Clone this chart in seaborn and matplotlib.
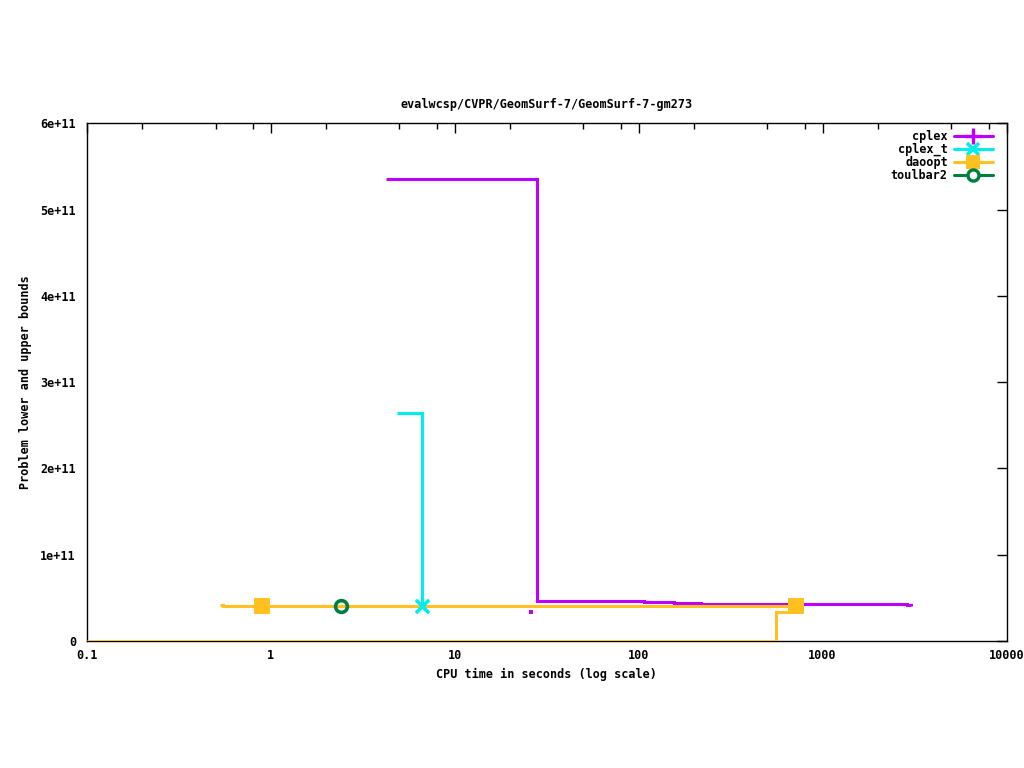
import matplotlib
matplotlib.use("Agg")
import matplotlib.pyplot as plt
import matplotlib.ticker as mticker
from matplotlib.lines import Line2D
import seaborn as sns
import pandas as pd

# ---- data ----
cplex_ub_t = [4.2, 28.0, 107, 156, 219, 2870, 3015]
cplex_ub_v = [5.35e11, 4.64e10, 4.49e10, 4.37e10, 4.26e10, 4.14e10, 4.03e10]
cplex_lb_t = [25.9]
cplex_lb_v = [3.33e10]

cplex_t_ub_t = [4.83, 6.61]
cplex_t_ub_v = [2.643e11, 4.06e10]

daoopt_ub_t = [0.53, 0.55, 713]
daoopt_ub_v = [4.2e10, 4.06e10, 4.06e10]
daoopt_lb_t = [0.1, 555, 721]
daoopt_lb_v = [0.0, 3.33e10, 3.33e10]
daoopt_mark_t = [0.9, 713]
daoopt_mark_v = [4.06e10, 4.06e10]

toulbar2_t = [2.42]
toulbar2_v = [4.06e10]

cplex_t_mark_t = [6.61]
cplex_t_mark_v = [4.06e10]

series_names = ["cplex", "cplex_t", "daoopt", "toulbar2"]
colors = {"cplex": "#c000ff", "cplex_t": "#00eeee", "daoopt": "#ffc020", "toulbar2": "#008040"}

y_ticks = [0, 1e11, 2e11, 3e11, 4e11, 5e11, 6e11]
y_labels = ["0", "1e+11", "2e+11", "3e+11", "4e+11", "5e+11", "6e+11"]
x_ticks = [0.1, 1, 10, 100, 1000, 10000]
x_labels = ["0.1", "1", "10", "100", "1000", "10000"]

title = "evalwcsp/CVPR/GeomSurf-7/GeomSurf-7-gm273"

# ---- style ----
sns.set_style("white")
plt.rcParams["font.family"] = ["DejaVu Sans Mono", "DejaVu Sans"]
plt.rcParams["font.size"] = 8
plt.rcParams["text.color"] = "black"
plt.rcParams["axes.labelcolor"] = "black"
plt.rcParams["xtick.color"] = "black"
plt.rcParams["ytick.color"] = "black"

fig = plt.figure(figsize=(10.24, 7.68), dpi=100)
ax = fig.add_axes([87/1024, 1 - 641/768, (1006.5 - 87)/1024, (641 - 123.3)/768])

lw = 2.2

def steps(t, v, color, z=2):
    df = pd.DataFrame({"t": t, "v": v})
    sns.lineplot(data=df, x="t", y="v", ax=ax, color=color, lw=lw,
                 drawstyle="steps-post", estimator=None, sort=False, zorder=z,
                 solid_joinstyle="miter", solid_capstyle="butt")

# daoopt
steps(daoopt_lb_t, daoopt_lb_v, colors["daoopt"], z=3)
steps(daoopt_ub_t, daoopt_ub_v, colors["daoopt"], z=3)
# cplex
steps(cplex_ub_t, cplex_ub_v, colors["cplex"], z=2)
sns.scatterplot(x=cplex_lb_t, y=cplex_lb_v, ax=ax, color=colors["cplex"], marker="s",
                s=6, linewidth=0, zorder=4)
# cplex_t
steps(cplex_t_ub_t, cplex_t_ub_v, colors["cplex_t"], z=4)
sns.scatterplot(x=cplex_t_mark_t, y=cplex_t_mark_v, ax=ax, color=colors["cplex_t"], marker="x",
                s=90, linewidth=2.6, zorder=5)
# daoopt markers
sns.scatterplot(x=daoopt_mark_t, y=daoopt_mark_v, ax=ax, color=colors["daoopt"], marker="s",
                s=130, linewidth=0, zorder=5)
# toulbar2
ax.plot(toulbar2_t, toulbar2_v, marker="o", ls="none", ms=8.5, mfc="none",
        mec=colors["toulbar2"], mew=2.6, zorder=6)

ax.set_xscale("log")
ax.set_xlim(0.1, 10000)
ax.set_ylim(0, 6e11)
ax.set_xticks(x_ticks)
ax.set_xticklabels(x_labels, fontweight="bold")
ax.xaxis.set_minor_locator(mticker.LogLocator(base=10, subs=[2, 5, 8], numticks=20))
ax.xaxis.set_minor_formatter(mticker.NullFormatter())
ax.set_yticks(y_ticks)
ax.set_yticklabels(y_labels, fontweight="bold")

ax.tick_params(axis="x", which="major", pad=6)
ax.tick_params(axis="y", which="major", pad=8)
ax.tick_params(axis="both", which="major", direction="in", length=7, width=1,
               top=True, right=True, labelsize=8.5, colors="black")
ax.tick_params(axis="both", which="minor", direction="in", length=4, width=1,
               top=True, right=True)
for s in ax.spines.values():
    s.set_color("black")
    s.set_linewidth(1)

ax.set_xlabel("CPU time in seconds (log scale)", fontsize=8.5, fontweight="bold", labelpad=4)
ax.set_ylabel("Problem lower and upper bounds", fontsize=8.5, fontweight="bold", labelpad=6)
ax.set_title(title, fontsize=8.5, fontweight="bold", pad=11)

handles = [
    Line2D([], [], color=colors["cplex"], lw=lw, marker="+", ms=12, mew=2.4),
    Line2D([], [], color=colors["cplex_t"], lw=lw, marker="x", ms=9, mew=2.6),
    Line2D([], [], color=colors["daoopt"], lw=lw, marker="s", ms=10, mew=0),
    Line2D([], [], color=colors["toulbar2"], lw=lw, marker="o", ms=8, mfc="white", mew=2.4),
]
leg = ax.legend(handles, series_names, loc="upper right", frameon=False, markerfirst=False,
                handlelength=3.3, handletextpad=0.5, labelspacing=0.0,
                prop={"weight": "bold", "size": 8.5}, borderaxespad=0.3,
                bbox_to_anchor=(0.994, 1.003))
for t in leg.get_texts():
    t.set_ha("right")

fig.savefig("out.png", dpi=100, facecolor="white")
